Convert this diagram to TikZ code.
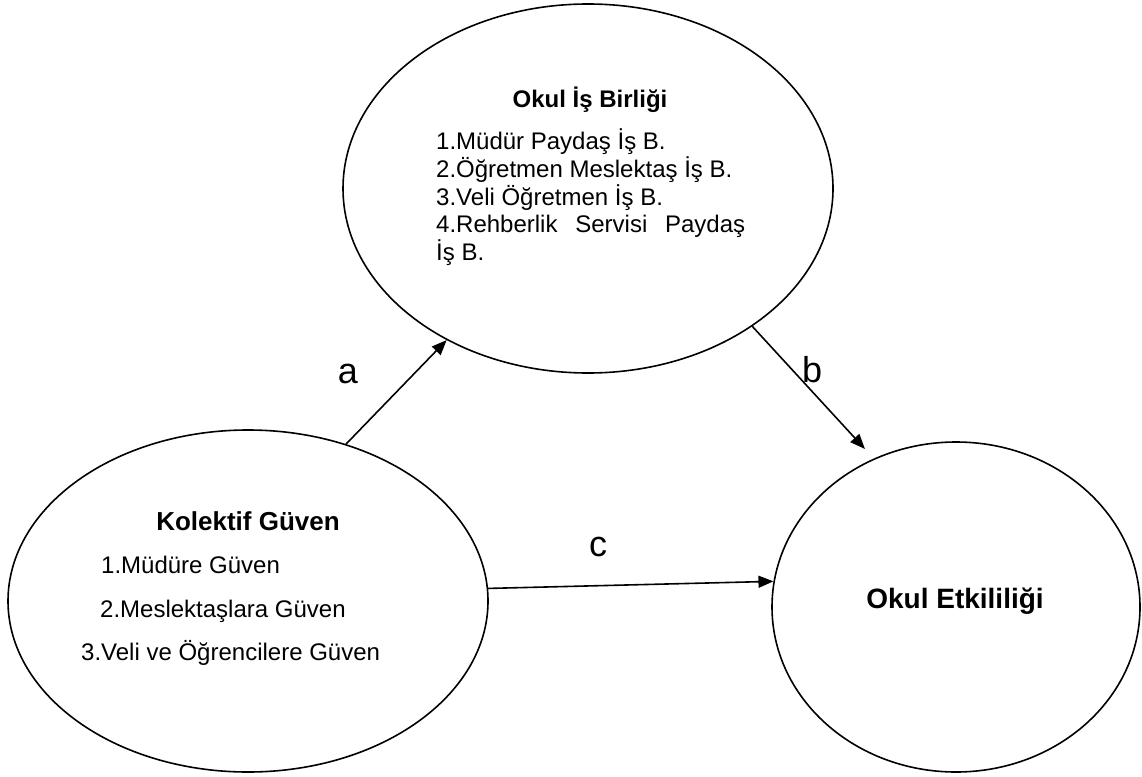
\documentclass[tikz,border=0pt]{standalone}
\usepackage{fontspec}
\setmainfont{Liberation Sans}
\usetikzlibrary{shapes.geometric,arrows.meta}
\begin{document}
\begin{tikzpicture}[x=1pt,y=-1pt,
  oval/.style={draw,line width=1.6pt,ellipse,inner sep=0pt},
  link/.style={line width=1.6pt,-{Triangle[length=15pt,width=12pt]}},
  txt/.style={inner sep=0pt,anchor=base west,font=\fontsize{24}{24}\selectfont},
  head/.style={inner sep=0pt,anchor=base},
  lbl/.style={inner sep=0pt,anchor=base,font=\fontsize{36}{36}\selectfont}]
\useasboundingbox (0,0) rectangle (1142,776);

% the three constructs
\node[oval,minimum width=490pt,minimum height=369pt] (oib) at (588,188.5) {};
\node[oval,minimum width=480pt,minimum height=342pt] (kg) at (248,601) {};
\node[oval,minimum width=368pt,minimum height=330pt] (oe) at (956,607) {};

% Okul İş Birliği
\node[head,font=\fontsize{24}{24}\selectfont\bfseries] (oibt) at (590,107) {Okul İş Birliği};
\node[txt] (oib1) at (436,149) {1.Müdür Paydaş İş B.};
\node[txt] (oib2) at (436,177) {2.Öğretmen Meslektaş İş B.};
\node[txt] (oib3) at (436,205) {3.Veli Öğretmen İş B.};
\node[txt] (oib4) at (436,232) {\makebox[309pt][s]{4.Rehberlik Servisi Paydaş}};
\node[txt] (oib5) at (436,260) {İş B.};

% Kolektif Güven
\node[head,font=\fontsize{26}{26}\selectfont\bfseries] (kgt) at (248,530) {Kolektif Güven};
\node[txt] (kg1) at (101,573) {1.Müdüre Güven};
\node[txt] (kg2) at (100,617) {2.Meslektaşlara Güven};
\node[txt] (kg3) at (81,660) {3.Veli ve Öğrencilere Güven};

% Okul Etkililiği
\node[head,font=\fontsize{28}{28}\selectfont\bfseries] (oet) at (955,608) {Okul Etkililiği};

% paths
\draw[link] (kg.58.1) -- (oib.227.2);
\draw[link,shorten >=13pt] (oib.320.3) -- (oe.119.8);
\draw[link] (kg.3.1) -- (oe.172);

\node[lbl] (la) at (348,383) {a};
\node[lbl] (lb) at (812,382) {b};
\node[lbl] (lc) at (598,556) {c};
\end{tikzpicture}
\end{document}
